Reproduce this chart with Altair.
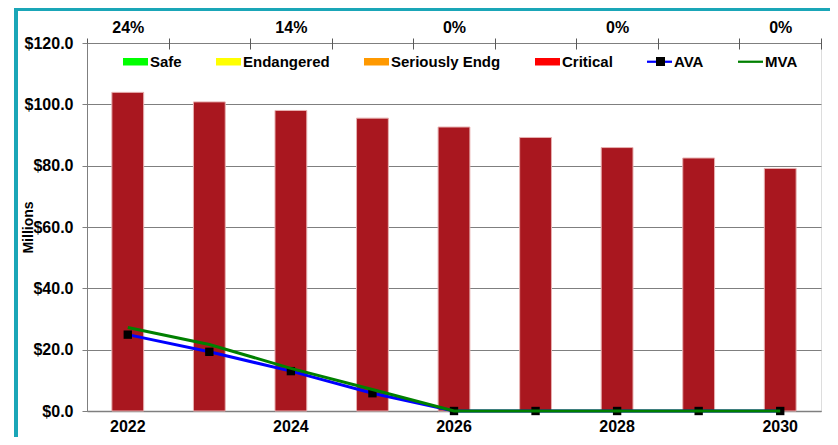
import altair as alt
import pandas as pd

years = [2022, 2023, 2024, 2025, 2026, 2027, 2028, 2029, 2030]
bar_values = [103.9, 100.8, 98.0, 95.5, 92.6, 89.2, 85.9, 82.5, 79.1]
ava_values = [24.9, 19.3, 13.0, 5.8, 0.0, 0.0, 0.0, 0.0, 0.0]
mva_values = [27.2, 21.7, 13.9, 7.0, 0.0, 0.0, 0.0, 0.0, 0.0]
top_years = [2022, 2024, 2026, 2028, 2030]
top_labels = ["24%", "14%", "0%", "0%", "0%"]
legend_names = ["Safe", "Endangered", "Seriously Endg", "Critical", "AVA", "MVA"]
legend_colors = ["#00FF00", "#FFFF00", "#FF9900", "#FF0000", "#0000FF", "#008000"]
marker_name = ["AVA"]
marker_color = ["#000000"]

RECT = "M-1,-0.3H1V0.3H-1Z"
LINE = "M-1,-0.09H1V0.09H-1Z"
legend_shapes = [RECT, RECT, RECT, RECT, LINE, LINE]

df = pd.DataFrame({"Year": years, "Bar": bar_values, "AVA": ava_values, "MVA": mva_values})
leg_df = pd.DataFrame({"Series": legend_names})
mk_df = pd.DataFrame({"Marker": marker_name})

W, H = 734, 368
FONT = "Liberation Sans"

top_expr = " : ".join(f"datum.value == {y} ? '{l}'" for y, l in zip(top_years, top_labels)) + " : ''"

x_bottom = alt.X(
    "Year:O",
    scale=alt.Scale(paddingInner=0, paddingOuter=0),
    axis=alt.Axis(
        orient="bottom", title=None, labelAngle=0, ticks=False, labelPadding=7,
        labelExpr="datum.value % 2 == 0 ? datum.label : ''",
        domainColor="#7F7F7F", domainWidth=1.5,
        labelFont=FONT, labelFontSize=16, labelFontWeight="bold", labelColor="#000000",
    ),
)
x_top = alt.X(
    "Year:O",
    scale=alt.Scale(paddingInner=0, paddingOuter=0),
    axis=alt.Axis(
        orient="top", title=None, labelAngle=0, tickBand="extent", tickSize=11, offset=-6,
        labelPadding=3, domain=False, labelExpr=top_expr, tickColor="#595959", tickWidth=1,
        labelFont=FONT, labelFontSize=16, labelFontWeight="bold", labelColor="#000000",
    ),
)
x_none = alt.X("Year:O", axis=None)
y_enc = alt.Y(
    "Bar:Q",
    scale=alt.Scale(domain=[0, 120]),
    axis=alt.Axis(
        values=[0, 20, 40, 60, 80, 100, 120], format="$.1f", title="Millions",
        titleFont=FONT, titleFontSize=14, titleFontWeight="bold", titleColor="#000000",
        titleAngle=-90, titleX=-59, titleY=H / 2, titleBaseline="middle", titleAlign="center",
        labelFont=FONT, labelFontSize=16, labelFontWeight="bold", labelColor="#000000",
        tickSize=5, labelPadding=9, tickColor="#7F7F7F", domainColor="#7F7F7F",
        grid=True, gridColor="#7F7F7F", gridWidth=1.2,
    ),
)

frame = alt.Chart(df).mark_rect(filled=False, stroke="#1AA6B7", strokeWidth=3).encode(
    x=alt.value(-71), x2=alt.value(W + 40), y=alt.value(-34), y2=alt.value(H + 60)
)

bars = alt.Chart(df).mark_bar(
    width=alt.RelativeBandSize(0.39), color="#A9171F", stroke="#E7B1B1", strokeWidth=1
).encode(x=x_bottom, y=y_enc)

top_axis_layer = alt.Chart(df).mark_bar(opacity=0).encode(x=x_top, y=alt.Y("Bar:Q"))

ava_line = alt.Chart(df).mark_line(color="#0000FF", strokeWidth=3).encode(
    x=x_none, y=alt.Y("AVA:Q")
)
ava_pts = alt.Chart(df).mark_square(color="#000000", size=70, opacity=1).encode(
    x=x_none, y=alt.Y("AVA:Q")
)
mva_line = alt.Chart(df).mark_line(color="#008000", strokeWidth=3).encode(
    x=x_none, y=alt.Y("MVA:Q")
)

legend_layer = alt.Chart(leg_df).transform_filter("false").mark_point(filled=True, opacity=1).encode(
    color=alt.Color(
        "Series:N",
        scale=alt.Scale(domain=legend_names, range=legend_colors),
        legend=alt.Legend(
            title=None, orient="none", legendX=36, legendY=6, direction="horizontal",
            columns=6, columnPadding=34, labelOffset=2, symbolSize=625,
            symbolStrokeWidth=0, padding=0,
            labelFont=FONT, labelFontSize=15, labelFontWeight="bold", labelColor="#000000",
        ),
    ),
    shape=alt.Shape("Series:N", scale=alt.Scale(domain=legend_names, range=legend_shapes)),
)

marker_legend = alt.Chart(mk_df).transform_filter("false").mark_point(filled=True, opacity=1).encode(
    fill=alt.Fill(
        "Marker:N",
        scale=alt.Scale(domain=marker_name, range=marker_color),
        legend=alt.Legend(
            title=None, orient="none", legendX=566, legendY=11, direction="horizontal",
            symbolType="square", symbolSize=81, symbolStrokeWidth=0, padding=0,
            labelExpr="''", labelFontSize=15, labelFont=FONT, labelFontWeight="bold",
        ),
    ),
)

chart = alt.layer(
    frame, bars, top_axis_layer, ava_line, ava_pts, mva_line, legend_layer, marker_legend
).resolve_axis(x="independent").properties(
    width=W, height=H,
    autosize=alt.AutoSizeParams(type="none"),
    padding={"left": 79, "top": 35, "right": 9, "bottom": 26},
).configure_view(stroke=None).configure(background="white")

chart.save("out.html", embed_options={"renderer": "svg", "actions": False})
